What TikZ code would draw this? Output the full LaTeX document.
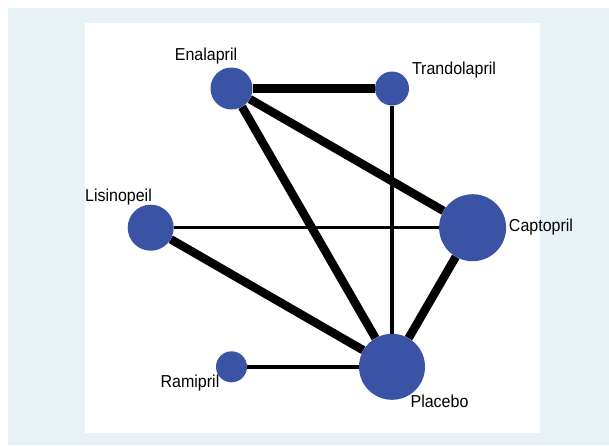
\documentclass[tikz,border=0pt]{standalone}
\usepackage{fontspec}
\setmainfont{Liberation Sans}
\usepackage{tikz}
\usetikzlibrary{calc}
\usetikzlibrary{positioning}

\definecolor{drugblue}{RGB}{58,83,164}
\definecolor{panelbg}{RGB}{233,242,246}

\begin{document}
\begin{tikzpicture}[x=1pt, y=-1pt]

        % Sizes of the circles and widths of the links
        \def\wthick{8.5pt}
        \def\wthin{3.5pt}
        \def\wmid{4.5pt}

        \tikzset{
            drug/.style={circle, fill=drugblue, inner sep=0pt},
            drugname/.style={font=\fontsize{16}{18}\selectfont, inner sep=0pt, yscale=1.08},
            link/.style={line width=#1, black}
        }

        % Panel and plot region
        \useasboundingbox (0,0) rectangle (609,445);
        \fill[white] (0,0) rectangle (609,445);
        \fill[panelbg] (8,7.5) rectangle (609,445);
        \fill[white] (84.5,22.5) rectangle (540,433);

        \begin{scope}
            \node[drug, minimum size=42pt] (E) at (231.5,88.5) {};
            \node[drug, minimum size=34pt] (T) at (392,88.5) {};
            \node[drug, minimum size=46pt] (L) at (150.7,227.7) {};
            \node[drug, minimum size=67pt] (C) at (472.6,227.7) {};
            \node[drug, minimum size=66pt] (P) at (392,366.8) {};
            \node[drug, minimum size=31pt] (R) at (231.5,366.8) {};

            \node[drugname] (Elab) at (206,56.5) {Enalapril};
            \node[drugname] (Tlab) at (454,70) {Trandolapril};
            \node[drugname] (Llab) at (118.5,197.5) {Lisinopeil};
            \node[drugname] (Clab) at (541,227.5) {Captopril};
            \node[drugname] (Rlab) at (190,383) {Ramipril};
            \node[drugname] (Plab) at (439.5,401) {Placebo};
        \end{scope}

        \begin{scope}
            \foreach\x in {T, C, P}
            \draw[link=\wthick] (E) -- (\x);
            \draw[link=\wthick] (L) -- (P);
            \draw[link=\wthick] (C) -- (P);

            \draw[link=\wthin] (L) -- (C);
            \draw[link=\wthin] (T) -- (P);
            \draw[link=\wmid] (R) -- (P);
        \end{scope}

\end{tikzpicture}
\end{document}
